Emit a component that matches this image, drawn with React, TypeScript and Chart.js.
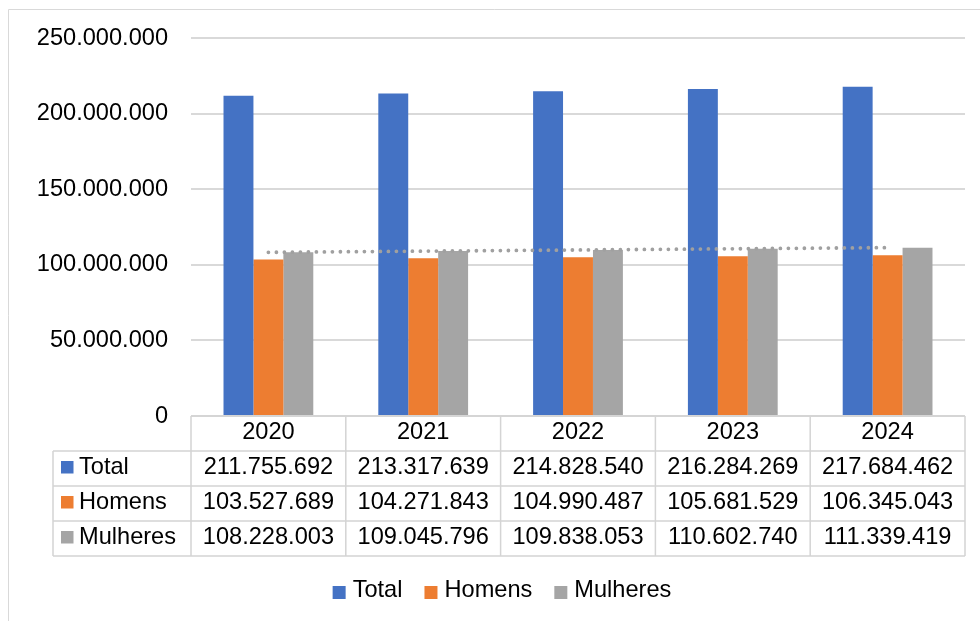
import React, { useEffect, useRef } from "react";
import { Chart, registerables } from "chart.js";

Chart.register(...registerables);

const years = ["2020", "2021", "2022", "2023", "2024"];
const seriesNames = ["Total", "Homens", "Mulheres"];
const total = [211755692, 213317639, 214828540, 216284269, 217684462];
const homens = [103527689, 104271843, 104990487, 105681529, 106345043];
const mulheres = [108228003, 109045796, 109838053, 110602740, 111339419];
// dotted linear trend line over "Mulheres"
const trendMulheres = [108255000, 109033000, 109811000, 110589000, 111366000];
const yMin = 0;
const yMax = 250000000;
const yStep = 50000000;

const colors = ["#4472C4", "#ED7D31", "#A5A5A5"];
const FONT_FAMILY = '"Liberation Sans", Arial, sans-serif';
const FONT_SIZE = 23.6;
const FONT = `${FONT_SIZE}px ${FONT_FAMILY}`;

function fmt(n: number): string {
  return Math.round(n)
    .toString()
    .replace(/\B(?=(\d{3})+(?!\d))/g, ".");
}

const tablePlugin = {
  id: "dataTable",
  afterDraw(chart: any) {
    const ctx = chart.ctx as CanvasRenderingContext2D;
    const area = chart.chartArea;
    const xs = chart.scales.x;
    const rowH = 35;
    const top = area.bottom;
    const leftCol = 53;
    const half = (xs.getPixelForValue(1) - xs.getPixelForValue(0)) / 2;
    const seriesData = [total, homens, mulheres];

    ctx.save();
    // outer frame (top and left visible)
    ctx.strokeStyle = "#d9d9d9";
    ctx.lineWidth = 1;
    ctx.beginPath();
    ctx.moveTo(8.5, 621);
    ctx.lineTo(8.5, 9.5);
    ctx.lineTo(980, 9.5);
    ctx.stroke();

    // table lines
    ctx.strokeStyle = "#d4d4d4";
    ctx.lineWidth = 1.5;
    ctx.beginPath();
    for (let r = 1; r <= 4; r++) {
      const y = top + r * rowH;
      ctx.moveTo(leftCol, y);
      ctx.lineTo(area.right, y);
    }
    ctx.moveTo(area.left, top);
    ctx.lineTo(area.right, top);
    ctx.moveTo(leftCol, top + rowH);
    ctx.lineTo(leftCol, top + 4 * rowH);
    for (let i = 0; i <= years.length; i++) {
      const x = i < years.length ? xs.getPixelForValue(i) - half : xs.getPixelForValue(years.length - 1) + half;
      ctx.moveTo(x, top);
      ctx.lineTo(x, top + 4 * rowH);
    }
    ctx.stroke();

    ctx.font = FONT;
    ctx.fillStyle = "#000";
    ctx.textBaseline = "middle";
    ctx.textAlign = "center";
    years.forEach((yr, i) => {
      ctx.fillText(yr, xs.getPixelForValue(i), top + rowH / 2 - 1.5);
    });
    seriesData.forEach((arr, s) => {
      const cy = top + rowH * (s + 1) + rowH / 2 - 1.5;
      ctx.textAlign = "center";
      ctx.fillStyle = "#000";
      arr.forEach((v, i) => {
        ctx.fillText(fmt(v), xs.getPixelForValue(i), cy);
      });
      ctx.fillStyle = colors[s];
      ctx.fillRect(61, cy - 6, 12.5, 12.5);
      ctx.fillStyle = "#000";
      ctx.textAlign = "left";
      ctx.fillText(seriesNames[s], 79, cy);
    });

    // bottom legend
    const box = 13;
    const gapBoxText = 7;
    const gapItems = 22;
    const widths = seriesNames.map((n) => ctx.measureText(n).width);
    const totalW = widths.reduce((a, w) => a + box + gapBoxText + w, 0) + gapItems * (seriesNames.length - 1);
    let x = 502 - totalW / 2;
    const ly = 590;
    seriesNames.forEach((n, s) => {
      ctx.fillStyle = colors[s];
      ctx.fillRect(x, ly - 4, box, box);
      ctx.fillStyle = "#000";
      ctx.textAlign = "left";
      ctx.fillText(n, x + box + gapBoxText, ly);
      x += box + gapBoxText + widths[s] + gapItems;
    });
    ctx.restore();
  },
};

export default function App() {
  const ref = useRef<HTMLCanvasElement | null>(null);

  useEffect(() => {
    document.body.style.margin = "0";
    const canvas = ref.current;
    if (!canvas) return;
    const chart = new Chart(canvas, {
      type: "bar",
      data: {
        labels: years,
        datasets: [
          {
            type: "line",
            label: "Linear (Mulheres)",
            data: trendMulheres,
            borderColor: "#A0A0A0",
            borderWidth: 3.8,
            borderDash: [0, 8],
            borderCapStyle: "round",
            pointRadius: 0,
            fill: false,
            tension: 0,
            order: 0,
          } as any,
          {
            label: seriesNames[0],
            data: total,
            backgroundColor: colors[0],
            order: 1,
          },
          {
            label: seriesNames[1],
            data: homens,
            backgroundColor: colors[1],
            order: 1,
          },
          {
            label: seriesNames[2],
            data: mulheres,
            backgroundColor: colors[2],
            order: 1,
          },
        ],
      },
      options: {
        responsive: false,
        animation: false,
        devicePixelRatio: 1,
        datasets: {
          bar: {
            categoryPercentage: 0.58,
            barPercentage: 1,
          },
        },
        layout: {
          padding: { left: 0, right: 15, top: 38, bottom: 205 },
        },
        plugins: {
          legend: { display: false },
          tooltip: { enabled: false },
          title: { display: false },
        },
        scales: {
          x: {
            display: false,
            offset: true,
          },
          y: {
            min: yMin,
            max: yMax,
            border: { display: false },
            grid: {
              color: "#d9d9d9",
              lineWidth: 2,
              drawTicks: false,
            },
            ticks: {
              stepSize: yStep,
              padding: 23,
              color: "#000",
              font: { family: FONT_FAMILY, size: FONT_SIZE },
              callback: (v: any) => fmt(Number(v)),
            },
            afterFit: (scale: any) => {
              scale.width = 191;
            },
          },
        },
      },
      plugins: [tablePlugin],
    });
    return () => chart.destroy();
  }, []);

  return (
    <div style={{ width: 980, height: 621, background: "#fff" }}>
      <canvas ref={ref} width={980} height={621} style={{ display: "block" }} />
    </div>
  );
}
